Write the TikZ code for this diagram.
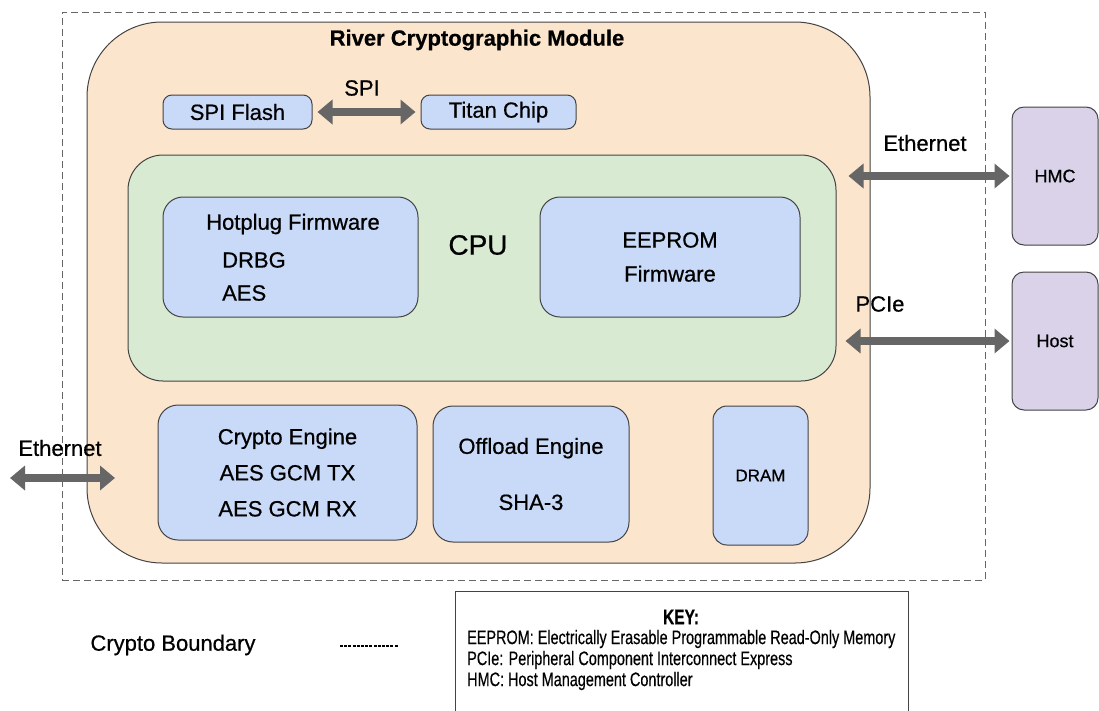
\documentclass[tikz,border=0pt]{standalone}
\usepackage{fontspec}
\setmainfont{Liberation Sans}[FakeBold=0.6]
\newfontfamily\keyfont[FakeStretch=0.74,FakeBold=0.4]{Liberation Sans}
\usetikzlibrary{arrows.meta}
\definecolor{modfill}{HTML}{FCE5CD}
\definecolor{cpufill}{HTML}{D9EAD3}
\definecolor{partfill}{HTML}{C9DAF8}
\definecolor{extfill}{HTML}{D9D2E9}
\definecolor{busgray}{HTML}{666666}
\definecolor{edgegray}{HTML}{434343}
\tikzset{
  boundary/.style={draw=busgray, line width=0.9pt, dash pattern=on 7pt off 4pt},
  module/.style={draw=edgegray, fill=modfill, line width=1pt, rounded corners=75pt},
  cpubox/.style={draw=edgegray, fill=cpufill, line width=1pt, rounded corners=35pt},
  part/.style={draw=edgegray, fill=partfill, line width=1pt, rounded corners=20pt,
    align=center, font=\fontsize{22}{36}\selectfont},
  smallpart/.style={part, rounded corners=9pt},
  extbox/.style={draw=edgegray, fill=extfill, line width=1pt, rounded corners=12pt,
    font=\fontsize{18}{22}\selectfont},
  lbl/.style={inner sep=0pt, font=\fontsize{22}{26}\selectfont},
  keytext/.style={inner sep=0pt, anchor=west, font=\keyfont\fontsize{19.5}{21}\selectfont},
  bus/.style={busgray, line width=8pt,
    {Triangle[length=15pt,width=24pt]}-{Triangle[length=15pt,width=24pt]}},
}
\begin{document}
\begin{tikzpicture}[x=1pt, y=-1pt]
  \useasboundingbox (0,0) rectangle (1099,710);
  \node[boundary, minimum width=923pt, minimum height=568pt] (bound) at (523.5,296) {};
  \node[module, minimum width=783pt, minimum height=541pt] (module) at (478.5,292.5) {};
  \node[lbl, font=\fontsize{22}{26}\selectfont\bfseries] (title) at (477,40) {River Cryptographic Module};

  \node[smallpart, minimum width=149pt, minimum height=34pt, inner sep=0pt] (flash) at (237.5,112) {SPI Flash};
  \node[smallpart, minimum width=155pt, minimum height=34pt, inner sep=0pt] (titan) at (498.5,112) {Titan Chip};
  \draw[bus, shorten <=5pt, shorten >=5pt] (flash.east) -- (titan.west);
  \node[lbl] (spi) at (362,88) {SPI};

  \node[cpubox, minimum width=708pt, minimum height=226pt] (cpu) at (482,268) {};
  \node[lbl, font=\fontsize{28}{32}\selectfont] (cpulbl) at (478,245) {CPU};
  \node[part, minimum width=255pt, minimum height=120pt] (hotplug) at (290.5,257) {};
  \node[lbl, anchor=west] (hpfw) at (206,224) {Hotplug Firmware};
  \node[lbl, anchor=west] (hpdrbg) at (222,260) {DRBG};
  \node[lbl, anchor=west] (hpaes) at (222,293) {AES};
  \node[part, minimum width=260pt, minimum height=120pt, font=\fontsize{22}{34}\selectfont] (eeprom) at (670,257) {EEPROM\\Firmware};

  \node[part, minimum width=259pt, minimum height=135pt] (crypto) at (287.5,472.5) {Crypto Engine\\AES GCM TX\\AES GCM RX};
  \node[part, minimum width=196pt, minimum height=136pt, font=\fontsize{22}{56}\selectfont] (offload) at (531,474) {Offload Engine\\SHA-3};
  \node[part, rounded corners=14pt, minimum width=95pt, minimum height=139pt, font=\fontsize{17}{20}\selectfont] (dram) at (760.5,475.5) {DRAM};

  \node[extbox, minimum width=86pt, minimum height=138pt] (hmc) at (1055,176) {HMC};
  \node[extbox, minimum width=86pt, minimum height=138pt] (host) at (1055,341) {Host};
  \draw[bus, shorten <=12pt, shorten >=2pt] (cpu.east |- hmc.west) -- (hmc.west);
  \draw[bus, shorten <=9pt, shorten >=2pt] (cpu.east |- host.west) -- (host.west);
  \node[lbl] (ethhmc) at (925,143) {Ethernet};
  \node[lbl] (pcie) at (880,304) {PCIe};

  \coordinate (ethout) at (10,478);
  \coordinate (ethin) at (115,478);
  \draw[bus] (ethout) -- (ethin);
  \node[lbl] (ethnet) at (60,448) {Ethernet};

  \node[lbl] (cbound) at (173,645) {Crypto Boundary};
  \coordinate (dashstart) at (340,646);
  \coordinate (dashend) at (398,646);
  \draw[line width=1.2pt, dash pattern=on 3pt off 1.2pt] (dashstart) -- (dashend);

  \node[draw=edgegray, line width=1pt, minimum width=453pt, minimum height=130pt] (key) at (681.5,656) {};
  \node[inner sep=0pt, font=\keyfont\fontsize{21}{22}\selectfont\bfseries] (keyhead) at (681,617) {KEY:};
  \node[keytext] (keyeeprom) at (467,639) {EEPROM: Electrically Erasable Programmable Read-Only Memory};
  \node[keytext] (keypcie) at (467,660) {PCIe: Peripheral Component Interconnect Express};
  \node[keytext] (keyhmc) at (467,681) {HMC: Host Management Controller};
\end{tikzpicture}
\end{document}
